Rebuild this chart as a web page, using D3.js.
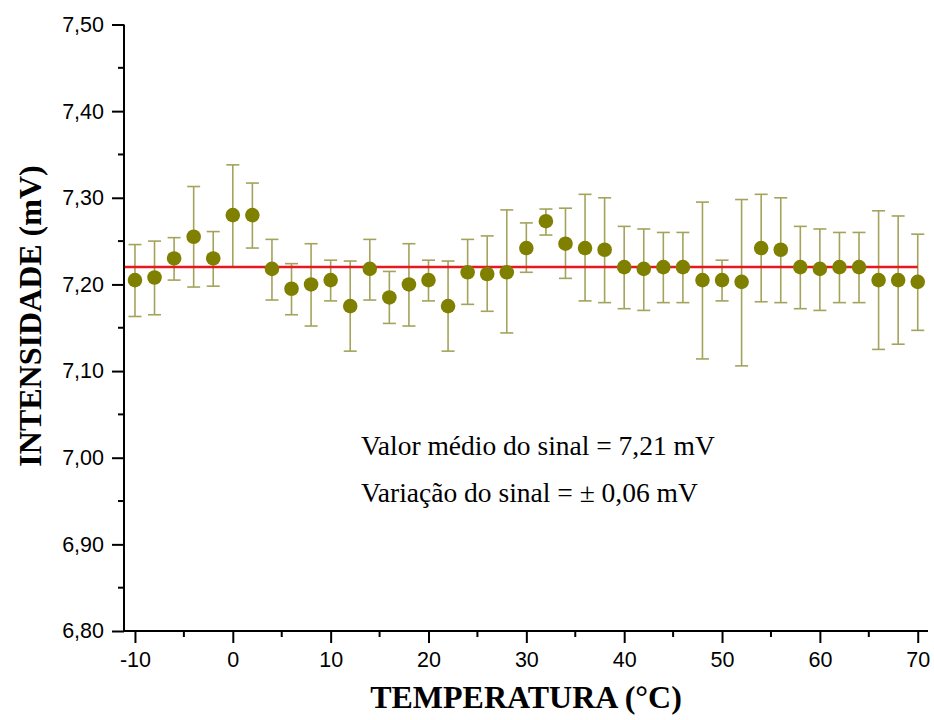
<!DOCTYPE html>
<html><head><meta charset="utf-8">
<script src="https://cdn.jsdelivr.net/npm/d3@7"></script>
<style>body{margin:0;background:#fff}</style>
</head><body>
<svg id="c" width="934" height="720"></svg>
<script>
const temperatures = [-10,-8,-6,-4,-2,0,2,4,6,8,10,12,14,16,18,20,22,24,26,28,30,32,34,36,38,40,42,44,46,48,50,52,54,56,58,60,62,64,66,68,70];
const intensity = [7.205,7.208,7.230,7.255,7.230,7.280,7.280,7.218,7.195,7.200,7.205,7.175,7.218,7.185,7.200,7.205,7.175,7.214,7.212,7.214,7.242,7.273,7.247,7.242,7.240,7.220,7.218,7.220,7.220,7.205,7.205,7.203,7.242,7.240,7.220,7.218,7.220,7.220,7.205,7.205,7.203];
const errUpper = [7.246,7.250,7.254,7.313,7.261,7.338,7.317,7.252,7.224,7.247,7.228,7.227,7.252,7.215,7.247,7.228,7.227,7.252,7.256,7.286,7.271,7.287,7.288,7.304,7.300,7.267,7.264,7.260,7.260,7.295,7.228,7.298,7.304,7.300,7.267,7.264,7.260,7.260,7.285,7.279,7.258];
const errLower = [7.163,7.165,7.205,7.197,7.198,7.220,7.242,7.182,7.165,7.152,7.181,7.123,7.182,7.155,7.152,7.181,7.123,7.177,7.169,7.144,7.214,7.257,7.207,7.181,7.179,7.172,7.170,7.179,7.179,7.114,7.181,7.106,7.180,7.179,7.172,7.170,7.179,7.179,7.125,7.131,7.147];
const meanLine = 7.22;
const xTickValues = [-10,0,10,20,30,40,50,60,70];
const xTickLabels = ["-10","0","10","20","30","40","50","60","70"];
const xMinorTicks = [-5,5,15,25,35,45,55,65];
const yTickValues = [6.8,6.9,7.0,7.1,7.2,7.3,7.4,7.5];
const yTickLabels = ["6,80","6,90","7,00","7,10","7,20","7,30","7,40","7,50"];
const yMinorTicks = [6.85,6.95,7.05,7.15,7.25,7.35,7.45];
const annotations = ["Valor médio do sinal = 7,21 mV","Variação do sinal = ± 0,06 mV"];
const xTitle = "TEMPERATURA (°C)";
const yTitle = "INTENSIDADE (mV)";

(function(){
const svg = d3.select("#c");
const pLeft = 124, pRight = 928, pTop = 24.5, pBottom = 631;
const x = d3.scaleLinear().domain([-11.12, 71.05]).range([pLeft, pRight]);
const y = d3.scaleLinear().domain([6.8, 7.5]).range([pBottom, pTop]);

// error bars
const eb = svg.append("g").attr("stroke", "#a3a35c").attr("stroke-width", 1.6).attr("fill","none");
temperatures.forEach((t,i)=>{
  const cx = x(t);
  eb.append("line").attr("x1",cx).attr("x2",cx).attr("y1",y(errUpper[i])).attr("y2",y(errLower[i]));
  eb.append("line").attr("x1",cx-6.5).attr("x2",cx+6.5).attr("y1",y(errUpper[i])).attr("y2",y(errUpper[i]));
  eb.append("line").attr("x1",cx-6.5).attr("x2",cx+6.5).attr("y1",y(errLower[i])).attr("y2",y(errLower[i]));
});

// mean line
svg.append("line").attr("x1", x(-11.12)).attr("x2", x(70)).attr("y1", y(meanLine)).attr("y2", y(meanLine))
  .attr("stroke", "#e8191e").attr("stroke-width", 2.5);

// points
svg.append("g").selectAll("circle").data(temperatures).join("circle")
  .attr("cx", d=>x(d)).attr("cy", (d,i)=>y(intensity[i])).attr("r", 7.3)
  .attr("fill", "#808000");

// axes
const xAxis = d3.axisBottom(x).tickValues(xTickValues).tickSize(12).tickPadding(9)
  .tickFormat((d,i)=>xTickLabels[i]);
const gx = svg.append("g").attr("transform", `translate(0,${pBottom})`).call(xAxis);
gx.select(".domain").attr("d", `M${pLeft},0H${pRight}`);
const yAxis = d3.axisLeft(y).tickValues(yTickValues).tickSize(12).tickPadding(8)
  .tickFormat((d,i)=>yTickLabels[i]);
const gy = svg.append("g").attr("transform", `translate(${pLeft},0)`).call(yAxis);
gy.select(".domain").attr("d", `M0,${pTop}V${pBottom}`);
[gx, gy].forEach(g=>{
  g.selectAll(".domain, .tick line").attr("stroke","#000").attr("stroke-width",2);
  g.selectAll("text").attr("font-family","'Liberation Sans', Arial, sans-serif").attr("font-size",21.5).attr("fill","#000");
});
svg.append("g").attr("transform", `translate(0,${pBottom})`)
  .selectAll("line").data(xMinorTicks).join("line")
  .attr("x1", d=>x(d)).attr("x2", d=>x(d)).attr("y1",0).attr("y2",6)
  .attr("stroke","#000").attr("stroke-width",2);
svg.append("g").attr("transform", `translate(${pLeft},0)`)
  .selectAll("line").data(yMinorTicks).join("line")
  .attr("y1", d=>y(d)).attr("y2", d=>y(d)).attr("x1",0).attr("x2",-6)
  .attr("stroke","#000").attr("stroke-width",2);

// titles
svg.append("text").attr("x", 526).attr("y", 708).attr("text-anchor","middle")
  .attr("font-family","'Liberation Serif', 'Times New Roman', serif").attr("font-weight","bold").attr("font-size",32)
  .text(xTitle);
svg.append("text").attr("transform","translate(41,316) rotate(-90)").attr("text-anchor","middle")
  .attr("font-family","'Liberation Serif', 'Times New Roman', serif").attr("font-weight","bold").attr("font-size",32)
  .text(yTitle);

// annotations
svg.append("g").selectAll("text").data(annotations).join("text")
  .attr("x", 361).attr("y", (d,i)=>455 + i*47)
  .attr("font-family","'Liberation Serif', 'Times New Roman', serif").attr("font-size",27.5).attr("fill","#000")
  .text(d=>d);
})();
</script>
</body></html>
